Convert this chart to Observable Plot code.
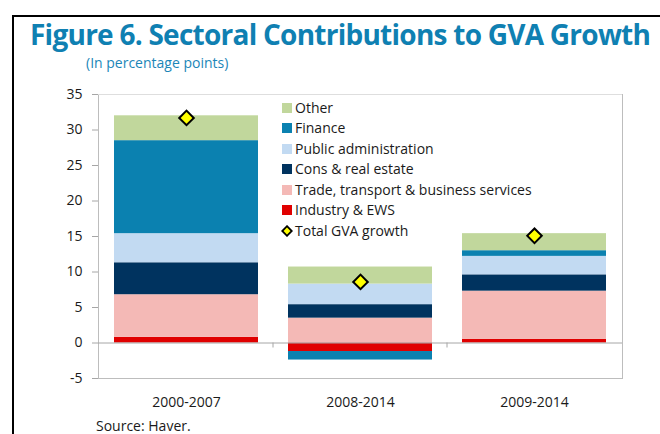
<!DOCTYPE html>
<html>
<head>
<meta charset="utf-8">
<script src="https://cdn.jsdelivr.net/npm/d3@7"></script>
<script src="https://cdn.jsdelivr.net/npm/@observablehq/plot@0.6"></script>
<style>
  html, body { margin: 0; padding: 0; background: #fff; }
  #wrap { position: relative; width: 660px; height: 434px; overflow: hidden; background: #fff; font-family: "Open Sans", sans-serif; }
  #border { position: absolute; z-index: 5; left: 12px; top: 15px; width: 700px; height: 500px; border-left: 2px solid #000; border-top: 2px solid #000; pointer-events: none; }
  #title { position: absolute; left: 30px; top: 20px; font-size: 28px; line-height: 1; font-weight: 700; color: #0f80b2; white-space: nowrap; letter-spacing: -0.75px; }
  #subtitle { position: absolute; left: 86px; top: 56px; font-size: 14px; line-height: 1; color: #1b86b8; white-space: nowrap; }
  #chart { position: absolute; left: 0; top: 80px; }
  #legend { position: absolute; left: 282px; top: 97.5px; }
  .item { position: absolute; left: 0; height: 20px; white-space: nowrap; font-size: 14px; color: #1a1a1a; line-height: 20px; }
  .sw { position: absolute; left: 0; top: 5px; width: 10px; height: 10px; }
  .lab { position: absolute; left: 13px; top: 0; }
  #source { position: absolute; left: 96px; top: 418px; font-size: 14px; line-height: 15px; color: #1a1a1a; white-space: nowrap; }
</style>
</head>
<body>
<div id="wrap">
  <div id="border"></div>
  <div id="title">Figure 6. Sectoral Contributions to GVA Growth</div>
  <div id="subtitle">(In percentage points)</div>
  <div id="chart"></div>
  <div id="legend"></div>
  <div id="source">Source: Haver.</div>
</div>
<script>
const categories = ["2000-2007", "2008-2014", "2009-2014"];
const sectors = ["Industry & EWS", "Trade, transport & business services", "Cons & real estate", "Public administration", "Finance", "Other"];
const sectorColors = ["#e00000", "#f4b9b6", "#00335f", "#c2daf2", "#0b81b0", "#c1d79c"];
const industry = [0.8, -1.2, 0.5];
const trade = [6.0, 3.5, 6.8];
const cons = [4.5, 1.9, 2.3];
const publicAdmin = [4.1, 2.9, 2.6];
const finance = [13.1, -1.2, 0.8];
const other = [3.5, 2.4, 2.4];
const totalGVA = [31.7, 8.6, 15.1];
const totalLabel = "Total GVA growth";
const yTicks = [-5, 0, 5, 10, 15, 20, 25, 30, 35];

const seriesValues = [industry, trade, cons, publicAdmin, finance, other];
const rows = [];
sectors.forEach((s, si) => categories.forEach((c, ci) => rows.push({sector: s, category: c, value: seriesValues[si][ci]})));
const totals = categories.map((c, i) => ({category: c, value: totalGVA[i]}));

const boundaryTicks = (index, scales, values, dimensions) => {
  const g = d3.create("svg:g");
  const x = scales.x, y = scales.y;
  const step = x.step ? x.step() : (x(categories[1]) - x(categories[0]));
  const bw = x.bandwidth ? x.bandwidth() : 0;
  for (let i = 1; i < categories.length; i++) {
    const xx = x(categories[i]) - (step - bw) / 2;
    g.append("line").attr("x1", xx).attr("x2", xx).attr("y1", y(0)).attr("y2", y(0) + 5)
      .attr("stroke", "#a6a6a6").attr("stroke-width", 1);
  }
  return g.node();
};

const chart = Plot.plot({
  width: 660,
  height: 354,
  marginTop: 14,
  marginBottom: 56,
  marginLeft: 98,
  marginRight: 38,
  style: {fontFamily: "Open Sans, sans-serif", fontSize: "14px", color: "#1a1a1a", background: "transparent"},
  x: {domain: categories, paddingInner: 0.17, paddingOuter: 0.085, label: null},
  y: {domain: [-5, 35], label: null},
  color: {domain: sectors, range: sectorColors},
  marks: [
    Plot.frame({stroke: "#bdbdbd"}),
    Plot.ruleY([35], {stroke: "#dedede"}),
    Plot.barY(rows, {x: "category", y: "value", fill: "sector", order: null}),
    Plot.ruleY([0], {stroke: "#a6a6a6"}),
    boundaryTicks,
    Plot.axisY({ticks: yTicks, tickSize: 6, tickPadding: 10, stroke: "#a6a6a6", fill: "#1a1a1a", tickFormat: d => String(d), fontSize: 14}),
    Plot.axisX({tickSize: 0, tickPadding: 19, fill: "#1a1a1a", fontSize: 14}),
    Plot.dot(totals, {x: "category", y: "value", symbol: "square", rotate: 45, r: 5.8, fill: "#ffff00", stroke: "#000", strokeWidth: 2})
  ]
});
document.getElementById("chart").appendChild(chart);

// Legend (reverse of stacking order), then total
const legend = document.getElementById("legend");
const legendItems = sectors.map((s, i) => ({label: s, color: sectorColors[i]})).reverse();
legendItems.push({label: totalLabel, diamond: true});
legendItems.forEach((it, i) => {
  const d = document.createElement("div");
  d.className = "item";
  d.style.top = (i * 20.55) + "px";
  if (it.diamond) {
    d.innerHTML = `<svg class="sw" style="top:4px;left:-1px;width:12px;height:12px" viewBox="0 0 12 12"><path d="M6 1.2 L10.8 6 L6 10.8 L1.2 6 Z" fill="#ffff00" stroke="#000" stroke-width="1.8"/></svg>`;
  } else {
    d.innerHTML = `<span class="sw" style="background:${it.color}"></span>`;
  }
  const t = document.createElement("span");
  t.className = "lab";
  t.textContent = it.label;
  d.appendChild(t);
  legend.appendChild(d);
});
</script>
</body>
</html>
